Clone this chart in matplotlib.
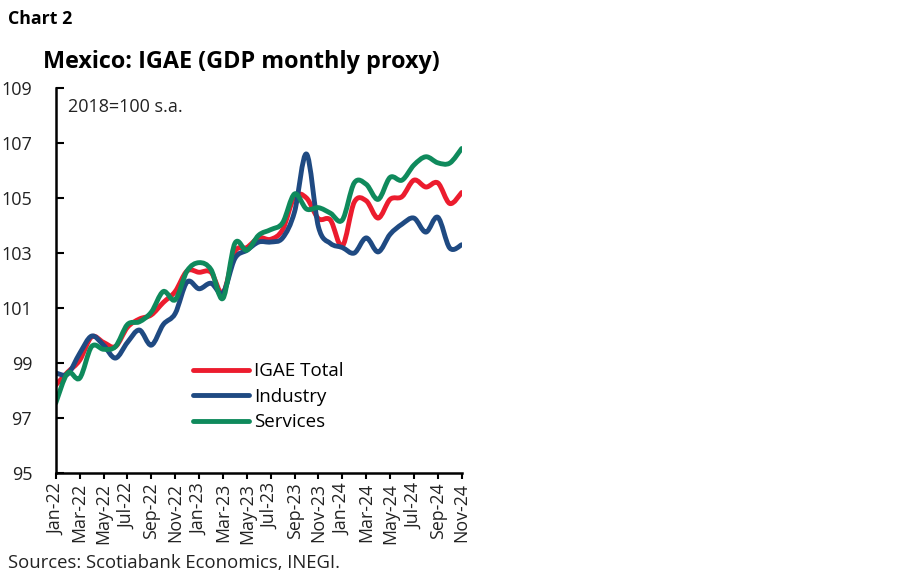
import matplotlib
matplotlib.use("Agg")
import matplotlib.pyplot as plt
from matplotlib.path import Path
from matplotlib.patches import PathPatch
from matplotlib.lines import Line2D
import numpy as np

plt.rcParams['font.family'] = ['Open Sans', 'DejaVu Sans']

months = ["Jan-22", "Feb-22", "Mar-22", "Apr-22", "May-22", "Jun-22", "Jul-22",
          "Aug-22", "Sep-22", "Oct-22", "Nov-22", "Dec-22", "Jan-23", "Feb-23",
          "Mar-23", "Apr-23", "May-23", "Jun-23", "Jul-23", "Aug-23", "Sep-23",
          "Oct-23", "Nov-23", "Dec-23", "Jan-24", "Feb-24", "Mar-24", "Apr-24",
          "May-24", "Jun-24", "Jul-24", "Aug-24", "Sep-24", "Oct-24", "Nov-24"]

igae_total = [98.2, 98.67, 99.1, 99.95, 99.75, 99.6, 100.3, 100.6, 100.75, 101.2,
              101.6, 102.35, 102.3, 102.3, 101.55, 103.05, 103.2, 103.55, 103.5,
              103.85, 105.05, 105.0, 104.25, 104.2, 103.25, 104.85, 104.9, 104.27,
              104.95, 105.05, 105.65, 105.4, 105.55, 104.8, 105.2]

industry = [98.64, 98.6, 99.35, 99.98, 99.65, 99.18, 99.75, 100.2, 99.65, 100.4,
            100.8, 101.95, 101.7, 101.9, 101.55, 102.8, 103.1, 103.4, 103.4,
            103.55, 104.5, 106.6, 103.95, 103.35, 103.2, 103.0, 103.55, 103.04,
            103.68, 104.05, 104.27, 103.76, 104.3, 103.18, 103.3]

services = [97.55, 98.64, 98.45, 99.6, 99.5, 99.6, 100.4, 100.5, 100.85, 101.6,
            101.3, 102.35, 102.65, 102.4, 101.35, 103.35, 103.1, 103.65, 103.85,
            104.1, 105.15, 104.6, 104.65, 104.45, 104.2, 105.55, 105.5, 104.95,
            105.75, 105.65, 106.2, 106.5, 106.28, 106.27, 106.8]

series = [("IGAE Total", igae_total, "#ec1c2e"),
          ("Industry", industry, "#1f4a82"),
          ("Services", services, "#0f8a5c")]


def smooth_path(x, y):
    # Excel-like smoothed line: cubic bezier through each point
    x = np.asarray(x, float)
    y = np.asarray(y, float)
    verts = [(x[0], y[0])]
    codes = [Path.MOVETO]
    n = len(x)
    for i in range(n - 1):
        x0, y0 = (x[i - 1], y[i - 1]) if i > 0 else (x[i], y[i])
        x3, y3 = (x[i + 2], y[i + 2]) if i + 2 < n else (x[i + 1], y[i + 1])
        c1 = (x[i] + (x[i + 1] - x0) / 6, y[i] + (y[i + 1] - y0) / 6)
        c2 = (x[i + 1] - (x3 - x[i]) / 6, y[i + 1] - (y3 - y[i]) / 6)
        verts += [c1, c2, (x[i + 1], y[i + 1])]
        codes += [Path.CURVE4] * 3
    return Path(verts, codes)


fig = plt.figure(figsize=(9, 5.79), dpi=100)
ax = fig.add_axes([0.062, 0.183, 0.451, 0.665])

xs = np.arange(len(months))
handles = []
for name, vals, color in series:
    patch = PathPatch(smooth_path(xs, vals), facecolor="none", edgecolor=color,
                      linewidth=3.5, capstyle="round", joinstyle="round")
    ax.add_patch(patch)
    handles.append(Line2D([], [], color=color, linewidth=3.5,
                          solid_capstyle="round", label=name))

ax.set_xlim(0, len(months) - 1)
ax.set_ylim(95, 109)
ax.set_yticks(np.arange(95, 110, 2))
ax.set_xticks(xs[::2])
ax.set_xticklabels(months[::2], rotation=90, fontsize=12.8)
ax.tick_params(axis="y", direction="in", length=6, width=1.5, labelsize=13, pad=17)
ax.tick_params(axis="x", direction="out", length=4, width=1.5, pad=3)
for lab in ax.get_yticklabels():
    lab.set_color("#222222")
for lab in ax.get_xticklabels():
    lab.set_color("#222222")

for side in ["top", "right"]:
    ax.spines[side].set_visible(False)
for side in ["left", "bottom"]:
    ax.spines[side].set_linewidth(1.8)
    ax.spines[side].set_color("black")

ax.text(0.03, 0.975, "2018=100 s.a.", transform=ax.transAxes, fontsize=13,
        va="top", ha="left", color="#222222")

ax.legend(handles=handles, loc="upper left", bbox_to_anchor=(0.32, 0.307),
          frameon=False, fontsize=13.5, handlelength=3.0, handletextpad=0.25,
          labelspacing=0.4, borderaxespad=0)

fig.text(0.009, 0.968, "Chart 2", fontsize=12.8, fontweight="bold", va="center")
fig.text(0.048, 0.893, "Mexico: IGAE (GDP monthly proxy)", fontsize=16.8,
         fontweight="bold", va="center")
fig.text(0.009, 0.027, "Sources: Scotiabank Economics, INEGI.", fontsize=13.3,
         va="center", color="#222222")

fig.savefig("out.png", dpi=100)
